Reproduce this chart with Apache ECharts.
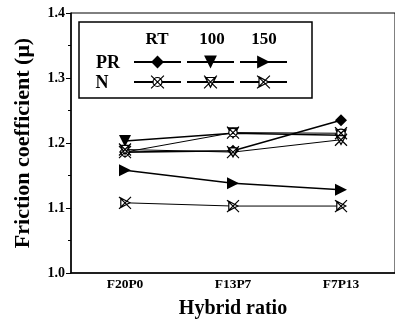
<!DOCTYPE html>
<html><head><meta charset="utf-8">
<script src="https://cdn.jsdelivr.net/npm/echarts@6/dist/echarts.min.js"></script>
<style>html,body{margin:0;padding:0;background:#fff}#c{width:395px;height:329px}</style>
</head><body><div id="c"></div>
<script>
const categories = ['F20P0', 'F13P7', 'F7P13'];
const prRT  = [1.186, 1.188, 1.235];
const pr100 = [1.203, 1.215, 1.212];
const pr150 = [1.158, 1.138, 1.128];
const nRT   = [1.186, 1.216, 1.215];
const n100  = [1.190, 1.186, 1.205];
const n150  = [1.108, 1.103, 1.103];
const yTicks = [1.0, 1.1, 1.2, 1.3, 1.4];
const colHeaders = ['RT', '100', '150'];

const FONT = 'Liberation Serif';
const symX = {
  circ: 'path://M0,0L20,20M20,0L0,20M10,3A7,7 0 1 1 9.99,3Z',
  down: 'path://M2,3L18,3L10,18Z M0,0L20,20M20,0L0,20',
  right: 'path://M3,2L18,10L3,18Z M0,0L20,20M20,0L0,20'
};
const nItem = { color: '#fff', borderColor: '#000', borderWidth: 1.2 };
function prSeries(name, data, symbol, rot) {
  return { name, type: 'line', data, symbol, symbolSize: 12, symbolRotate: rot,
    itemStyle: { color: '#000' }, lineStyle: { color: '#000', width: 1.6 } };
}
function nSeries(name, data, symbol) {
  return { name, type: 'line', data, symbol, symbolSize: 12,
    itemStyle: nItem, lineStyle: { color: '#000', width: 1 } };
}
const chart = echarts.init(document.getElementById('c'));
const legendCommon = { orient: 'horizontal', left: 133, itemWidth: 47, itemHeight: 16, itemGap: 4,
  formatter: () => '', selectedMode: false, padding: 0 };
function txt(t, x, y, size) {
  return { type: 'text', x, y, z: 20, style: { text: t, font: 'bold ' + size + 'px ' + FONT, fill: '#000', textAlign: 'center', textVerticalAlign: 'middle' } };
}
chart.setOption({
  animation: false,
  grid: { left: 71, top: 13, width: 325, bottom: 56, show: true, borderColor: '#000', borderWidth: 1 },
  xAxis: {
    type: 'category', data: categories,
    name: 'Hybrid ratio', nameLocation: 'middle', nameGap: 26,
    nameTextStyle: { fontFamily: FONT, fontWeight: 'bold', fontSize: 20, color: '#000' },
    axisLine: { lineStyle: { color: '#000', width: 1.5 } },
    axisTick: { alignWithLabel: true, length: 5, lineStyle: { color: '#000' } },
    axisLabel: { fontFamily: FONT, fontWeight: 'bold', fontSize: 13.5, color: '#000', margin: 5 }
  },
  yAxis: {
    type: 'value', min: 1.0, max: 1.4, interval: 0.1,
    name: 'Friction coefficient (μ)', nameLocation: 'middle', nameGap: 37,
    nameTextStyle: { fontFamily: FONT, fontWeight: 'bold', fontSize: 22, color: '#000' },
    axisLine: { show: true, lineStyle: { color: '#000', width: 1.5 } },
    axisTick: { show: true, length: 5, lineStyle: { color: '#000' } },
    minorTick: { show: true, splitNumber: 2, length: 3, lineStyle: { color: '#000' } },
    splitLine: { show: false },
    axisLabel: { fontFamily: FONT, fontWeight: 'bold', fontSize: 14, color: '#000', margin: 6,
      formatter: v => { const t = yTicks.find(x => Math.abs(x - v) < 1e-6); return t !== undefined ? t.toFixed(1) : ''; } }
  },
  legend: [
    Object.assign({ top: 54, data: ['PR-RT', 'PR-100', 'PR-150'] }, legendCommon),
    Object.assign({ top: 74, data: [
      { name: 'N-RT', itemStyle: nItem }, { name: 'N-100', itemStyle: nItem }, { name: 'N-150', itemStyle: nItem }] }, legendCommon)
  ],
  graphic: [
    { type: 'rect', x: 79, y: 22, shape: { width: 233, height: 76 }, style: { fill: 'none', stroke: '#000', lineWidth: 1.5 }, z: 10 },
    txt(colHeaders[0], 157, 40, 17),
    txt(colHeaders[1], 212, 40, 17),
    txt(colHeaders[2], 264, 40, 17),
    txt('PR', 108, 63, 18),
    txt('N', 102, 83, 18)
  ],
  series: [
    prSeries('PR-RT', prRT, 'diamond', 0),
    prSeries('PR-100', pr100, 'triangle', 180),
    prSeries('PR-150', pr150, 'triangle', -90),
    nSeries('N-RT', nRT, symX.circ),
    nSeries('N-100', n100, symX.down),
    nSeries('N-150', n150, symX.right)
  ]
});
</script></body></html>
